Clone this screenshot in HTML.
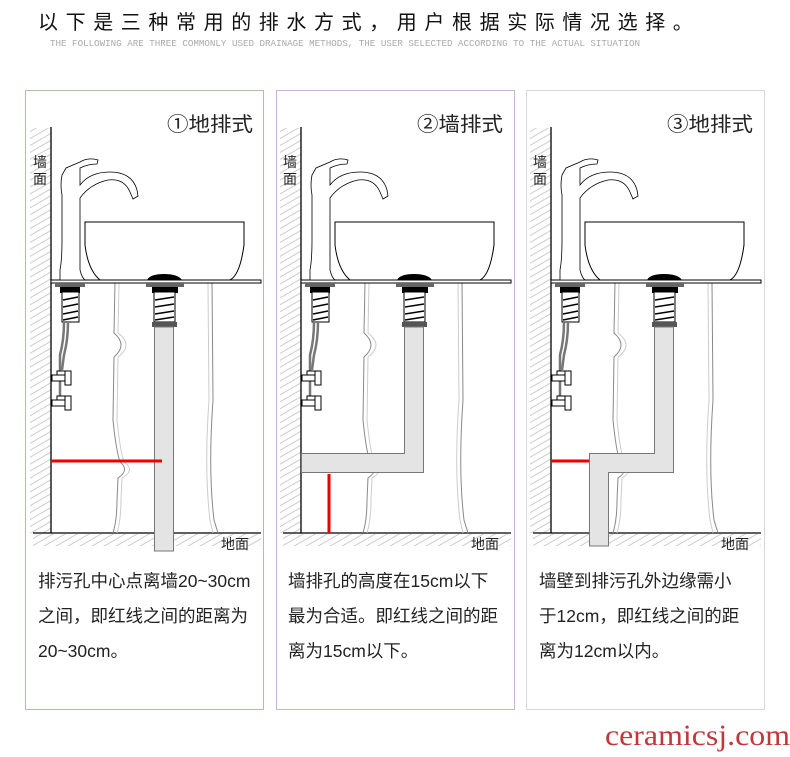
<!DOCTYPE html>
<html><head><meta charset="utf-8"><style>
html,body{margin:0;padding:0;background:#fff;}
body{width:790px;height:752px;overflow:hidden;position:relative;font-family:"Liberation Sans","Noto Sans CJK SC",sans-serif;}
</style></head><body>
<svg width="790" height="752" viewBox="0 0 790 752" xmlns="http://www.w3.org/2000/svg">
<defs>
<pattern id="hat" width="6" height="6" patternUnits="userSpaceOnUse" patternTransform="rotate(-30)">
<line x1="0" y1="3" x2="6" y2="3" stroke="#ccc" stroke-width="1"/>
</pattern>
<g id="base">
<rect x="30" y="128" width="21" height="405" fill="url(#hat)"/>
<rect x="33" y="534" width="228" height="12" fill="url(#hat)"/>
<line x1="51" y1="127" x2="51" y2="533" stroke="#000" stroke-width="1.3"/>
<line x1="33" y1="533" x2="261" y2="533" stroke="#000" stroke-width="1.3"/>
<path d="M115 283 L114 333 Q128 345 114 357 L113 420 Q116 450 120 462 Q130 470 118 478 L117 500 Q117 520 113 533" fill="none" stroke="#888" stroke-width="1"/>
<path d="M119 283 L118 333 Q134 345 118 357 L117 420 Q120 450 124 462 Q136 470 122 478 L121 500 Q121 520 117 533" fill="none" stroke="#ccc" stroke-width="1"/>
<path d="M212 283 L213 400 Q208 470 214 520 L218 533" fill="none" stroke="#888" stroke-width="1"/>
<path d="M208 283 L209 400 Q204 470 210 520 L213 533" fill="none" stroke="#ccc" stroke-width="1"/>
<path d="M85 222 L244 222 L244 245 Q240 275 230 280 L100 280 Q88 270 85 245 Z" fill="#fff" stroke="#000" stroke-width="1"/>
<rect x="51" y="280" width="210" height="3" fill="#fff" stroke="#000" stroke-width="1"/>
<path d="M60 280 L60 270 Q62 260 62 240 L62 195 Q60 185 62 175 L66 168 L80 162 Q88 157 98 160 L97 164 Q88 164 80 168 L80 185 Q90 172 110 172 Q132 172 137 190 L138 196 L133 199 L130 192 Q124 178 108 180 Q90 184 80 198 L80 270 Q82 278 85 280 Z" fill="#fff" stroke="#000" stroke-width="0.8"/>
<rect x="55" y="283" width="30" height="4" fill="#666"/>
<rect x="60" y="287" width="20" height="6" fill="#000"/>
<rect x="62" y="292" width="17" height="30" fill="#fff" stroke="#000"/>
<path d="M63 300 L78 297 M63 307 L78 304 M63 314 L78 311 M63 320 L78 317" stroke="#000" stroke-width="1.5"/>
<path d="M64 322 Q64 340 60 355 L60 400" fill="none" stroke="#777" stroke-width="2.5"/>
<path d="M68 322 Q68 340 64 355 L62 370" fill="none" stroke="#777" stroke-width="2.5"/>
<rect x="52" y="375" width="13" height="6" fill="#fff" stroke="#000"/>
<rect x="57" y="371" width="8" height="4" fill="#fff" stroke="#000"/>
<rect x="65" y="371" width="6" height="14" fill="#fff" stroke="#000"/>
<rect x="52" y="400" width="13" height="6" fill="#fff" stroke="#000"/>
<rect x="57" y="396" width="8" height="4" fill="#fff" stroke="#000"/>
<rect x="65" y="396" width="6" height="14" fill="#fff" stroke="#000"/>
<path d="M147 280 Q150 274 164 274 Q178 274 182 280 Z" fill="#000"/>
<rect x="146" y="283" width="38" height="4" fill="#666"/>
<rect x="152" y="287" width="26" height="6" fill="#000"/>
<rect x="154" y="292" width="21" height="30" fill="#fff" stroke="#000"/>
<path d="M155 300 L174 297 M155 307 L174 304 M155 314 L174 311 M155 320 L174 317" stroke="#000" stroke-width="1.5"/>
<rect x="152" y="322" width="25" height="5" fill="#555"/>
</g>
</defs>

<text x="38" y="29" font-size="20" letter-spacing="7.6" fill="#111" font-family="Liberation Sans,Noto Sans CJK SC,sans-serif">以下是三种常用的排水方式，用户根据实际情况选择。</text>
<text x="50" y="46" font-size="9" fill="#aaa" textLength="590" lengthAdjust="spacingAndGlyphs" font-family="Liberation Mono,monospace">THE FOLLOWING ARE THREE COMMONLY USED DRAINAGE METHODS, THE USER SELECTED ACCORDING TO THE ACTUAL SITUATION</text>

<rect x="25.5" y="90.5" width="238" height="619" fill="none" stroke="#a9c4a4"/>
<rect x="276.5" y="90.5" width="238" height="619" fill="none" stroke="#c3b4dc"/>
<rect x="526.5" y="90.5" width="238" height="619" fill="none" stroke="#d8d8d8"/>

<use href="#base"/>
<use href="#base" x="250"/>
<use href="#base" x="500"/>

<rect x="154.5" y="327" width="19" height="224" fill="#e4e4e4" stroke="#777"/>
<line x1="51" y1="461" x2="162" y2="461" stroke="#e00" stroke-width="3"/>
<path d="M404.5 327 L423.5 327 L423.5 472.5 L301.5 472.5 L301.5 453.5 L404.5 453.5 Z" fill="#e4e4e4" stroke="#777"/>
<line x1="329" y1="474" x2="329" y2="533" stroke="#e00" stroke-width="3"/>
<path d="M654.5 327 L673.5 327 L673.5 472.5 L608.5 472.5 L608.5 546 L589.5 546 L589.5 453.5 L654.5 453.5 Z" fill="#e4e4e4" stroke="#777"/>
<line x1="551" y1="461" x2="589" y2="461" stroke="#e00" stroke-width="3"/>

<g font-family="Liberation Sans,Noto Sans CJK SC,sans-serif" fill="#222">
<text x="167" y="131" font-size="20" textLength="86" lengthAdjust="spacingAndGlyphs">①地排式</text>
<text x="417" y="131" font-size="20" textLength="86" lengthAdjust="spacingAndGlyphs">②墙排式</text>
<text x="667" y="131" font-size="20" textLength="86" lengthAdjust="spacingAndGlyphs">③地排式</text>
<g font-size="14">
<text x="33" y="167">墙</text><text x="33" y="184">面</text>
<text x="283" y="167">墙</text><text x="283" y="184">面</text>
<text x="533" y="167">墙</text><text x="533" y="184">面</text>
<text x="221" y="549">地面</text><text x="471" y="549">地面</text><text x="721" y="549">地面</text>
</g>
<g font-size="17.5">
<text x="38" y="587">排污孔中心点离墙20~30cm</text>
<text x="38" y="622">之间，即红线之间的距离为</text>
<text x="38" y="657">20~30cm。</text>
<text x="288" y="587">墙排孔的高度在15cm以下</text>
<text x="288" y="622">最为合适。即红线之间的距</text>
<text x="288" y="657">离为15cm以下。</text>
<text x="539" y="587">墙壁到排污孔外边缘需小</text>
<text x="539" y="622">于12cm，即红线之间的距</text>
<text x="539" y="657">离为12cm以内。</text>
</g>
</g>
<text x="605" y="745" font-size="30" fill="#c0383a" textLength="185" lengthAdjust="spacingAndGlyphs" font-family="Liberation Serif,serif">ceramicsj.com</text>
</svg>
</body></html>
